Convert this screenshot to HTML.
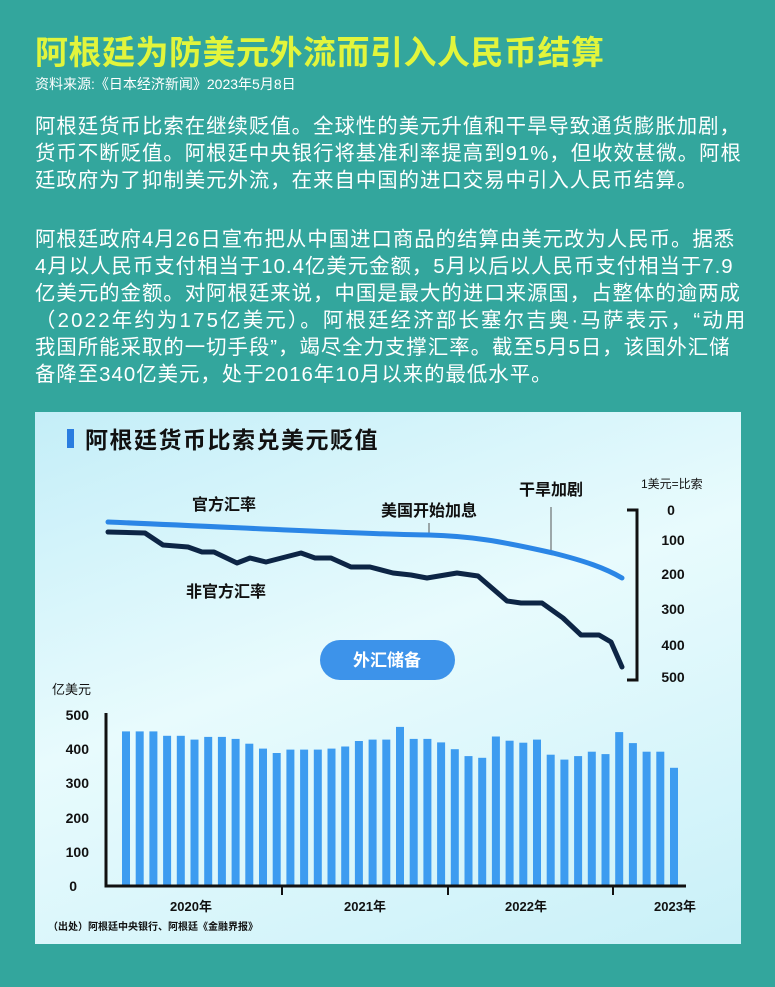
<!DOCTYPE html>
<html><head><meta charset="utf-8"><style>
body{margin:0;width:775px;height:987px;background:#33a69d;font-family:"Liberation Sans","Noto Sans CJK SC",sans-serif;position:relative;overflow:hidden}
.t{position:absolute;white-space:nowrap}
h1{position:absolute;left:35px;top:26px;margin:0;font-size:33px;font-weight:bold;color:#e2f53c;letter-spacing:0.5px}
.p{position:absolute;left:35px;color:#fff;font-size:20.4px;line-height:27px;white-space:nowrap;letter-spacing:1px}
#panel{position:absolute;left:35px;top:412px;width:706px;height:532px;background:linear-gradient(160deg,#c4eef8 0%,#e8fbfd 45%,#c9f0f8 100%)}
</style></head><body>
<h1>阿根廷为防美元外流而引入人民币结算</h1>
<div class="t" style="left:35px;top:74px;color:#fff;font-size:14px">资料来源:《日本经济新闻》2023年5月8日</div>
<div class="p" style="top:114px">阿根廷货币比索在继续贬值。全球性的美元升值和干旱导致通货膨胀加剧，<br>货币不断贬值。阿根廷中央银行将基准利率提高到91%，但收效甚微。阿根<br>廷政府为了抑制美元外流，在来自中国的进口交易中引入人民币结算。</div>
<div class="p" style="top:227px">阿根廷政府4月26日宣布把从中国进口商品的结算由美元改为人民币。据悉<br>4月以人民币支付相当于10.4亿美元金额，5月以后以人民币支付相当于7.9<br>亿美元的金额。对阿根廷来说，中国是最大的进口来源国，占整体的逾两成<br><span style="letter-spacing:2.2px">（2022年约为175亿美元）。阿根廷经济部长塞尔吉奥·马萨表示，“动用</span><br>我国所能采取的一切手段”，竭尽全力支撑汇率。截至5月5日，该国外汇储<br>备降至340亿美元，处于2016年10月以来的最低水平。</div>
<div id="panel"></div>
<svg width="775" height="987" style="position:absolute;left:0;top:0" font-family="Liberation Sans, Noto Sans CJK SC, sans-serif">
<rect x="67" y="429" width="7" height="19" fill="#2a7de0"/>
<text x="85" y="448" font-size="23" font-weight="bold" fill="#111" letter-spacing="1.5">阿根廷货币比索兑美元贬值</text>
<g font-size="16" font-weight="bold" fill="#111">
<text x="192" y="510">官方汇率</text>
<text x="381" y="516">美国开始加息</text>
<text x="519" y="495">干旱加剧</text>
<text x="186" y="597">非官方汇率</text>
</g>
<text x="641" y="488" font-size="12" fill="#111">1美元=比索</text>
<line x1="429" y1="523" x2="429" y2="535" stroke="#555" stroke-width="1"/>
<line x1="551" y1="507" x2="551" y2="552" stroke="#555" stroke-width="1"/>
<path d="M108,522 C250,528 380,535 429,535 C470,536 500,541 553,553 C585,561 605,568 622,578" fill="none" stroke="#2b86e6" stroke-width="5" stroke-linecap="round"/>
<polyline points="108,532 145,533 163,545 188,547 202,552 214,552 237,563 250,558 266,562 301,553 315,558 331,558 351,567 370,567 393,573 411,575 427,578 457,573 478,576 507,601 521,603 542,603 563,618 581,635 599,635 611,642 622,667" fill="none" stroke="#0d2545" stroke-width="5" stroke-linejoin="round" stroke-linecap="round"/>
<path d="M627,510 H637 V680 H627" fill="none" stroke="#111" stroke-width="3"/>
<g font-size="14" font-weight="bold" fill="#111" text-anchor="middle">
<text x="671" y="515">0</text><text x="673" y="545">100</text><text x="673" y="579">200</text><text x="673" y="614">300</text><text x="673" y="650">400</text><text x="673" y="682">500</text>
</g>
<rect x="320" y="640" width="135" height="40" rx="20" fill="#3d93ea"/>
<text x="387" y="666" font-size="17" font-weight="bold" fill="#fff" text-anchor="middle">外汇储备</text>
<text x="52" y="694" font-size="13" fill="#111">亿美元</text>
<g font-size="14" font-weight="bold" fill="#111" text-anchor="end">
<text x="89" y="720">500</text><text x="89" y="754">400</text><text x="89" y="788">300</text><text x="89" y="823">200</text><text x="89" y="857">100</text><text x="77" y="891">0</text>
</g>
<g id="bars" fill="#3d9cf0"></g>
<path d="M106,713 V886 H686" fill="none" stroke="#111" stroke-width="3"/>
<path d="M282,886 V895 M448,886 V895 M613,886 V895" stroke="#111" stroke-width="2"/>
<g font-size="13" font-weight="bold" fill="#111" text-anchor="middle">
<text x="191" y="911">2020年</text><text x="365" y="911">2021年</text><text x="526" y="911">2022年</text><text x="675" y="911">2023年</text>
</g>
<text x="48" y="930" font-size="10" font-weight="bold" fill="#111">（出处）阿根廷中央银行、阿根廷《金融界报》</text>
</svg>
<script>
var v=[450,450,450,437,437,426,434,434,428,414,400,387,397,397,397,400,406,422,426,426,463,428,428,418,398,378,373,435,423,417,426,382,368,378,391,384,448,416,391,391,344];
var g=document.getElementById('bars'),s='';
for(var i=0;i<v.length;i++){var h=v[i]*0.3436;s+='<rect x="'+(122+i*13.7).toFixed(1)+'" y="'+(886-h).toFixed(1)+'" width="8" height="'+h.toFixed(1)+'"/>';}
g.innerHTML=s;
</script>
</body></html>
